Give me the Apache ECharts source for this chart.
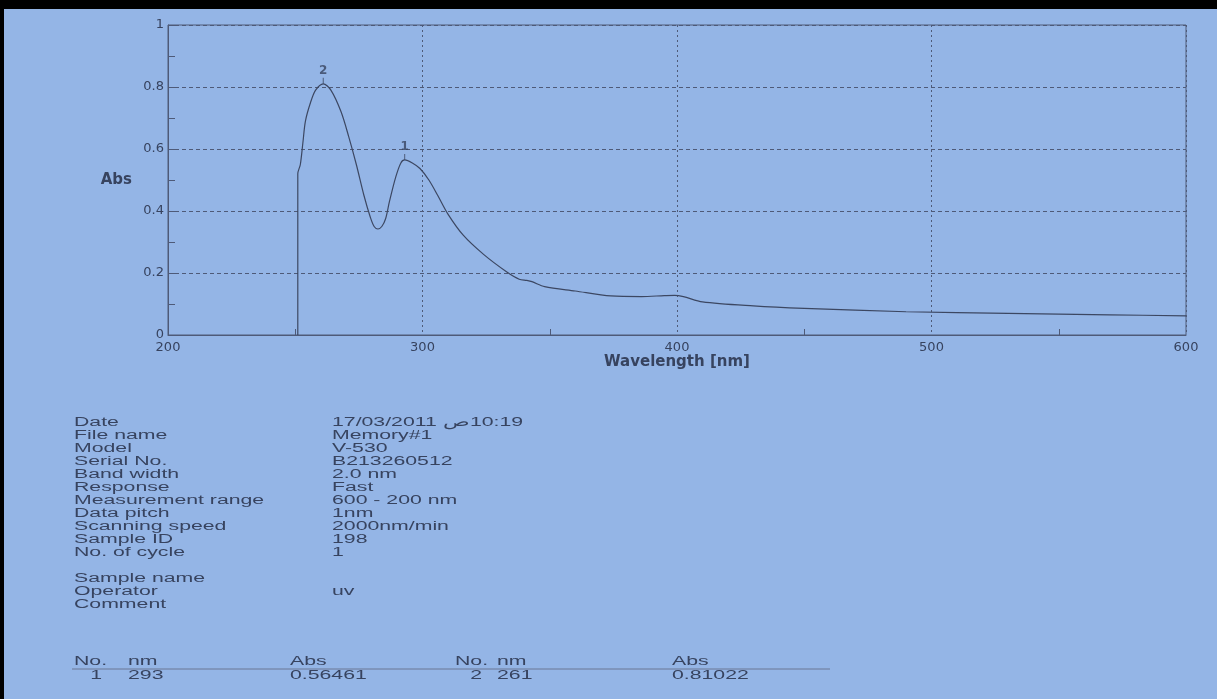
<!DOCTYPE html>
<html>
<head>
<meta charset="utf-8">
<title>UV spectrum</title>
<script src="https://cdn.jsdelivr.net/npm/echarts@6/dist/echarts.min.js"></script>
<style>
    html, body {margin: 0; padding: 0; background: #94b5e6}
    #main {width: 1217px; height: 699px}
</style>
</head>
<body>
<div id="main"></div>
<script>
// trace (nm / Abs)
var wavelength = [251, 251, 251, 252, 253, 254, 256, 258, 261, 264, 268, 271, 274, 277, 279.5, 281, 282.5, 284, 285.5, 287, 289.5, 291.5, 293, 296, 299, 302.5, 306, 310, 316, 324, 333, 338, 341, 343, 348, 360, 374, 386, 395, 399, 402.5, 410, 430, 450, 490, 530, 570, 600]
var absorbance = [0, 0.3, 0.52, 0.55, 0.62, 0.69, 0.75, 0.79, 0.81022, 0.79, 0.72, 0.64, 0.55, 0.45, 0.38, 0.35, 0.342, 0.35, 0.375, 0.43, 0.51, 0.555, 0.56461, 0.555, 0.537, 0.5, 0.45, 0.39, 0.322, 0.26, 0.204, 0.18, 0.176, 0.172, 0.156, 0.142, 0.126, 0.124, 0.127, 0.128, 0.124, 0.107, 0.094, 0.086, 0.075, 0.07, 0.065, 0.062]

// peak pick
var peakNo = [1, 2]
var peakNm = [293, 261]
var peakAbs = [0.56461, 0.81022]

// axes
var xMin = 200, xMax = 600, xStep = 100
var yMin = 0, yMax = 1, yStep = 0.2

// measurement info block
var infoLabels = ['Date', 'File name', 'Model', 'Serial No.', 'Band width', 'Response', 'Measurement range', 'Data pitch', 'Scanning speed', 'Sample ID', 'No. of cycle', '', 'Sample name', 'Operator', 'Comment']
var infoValues = ['17/03/2011 ص\u200E10:19', 'Memory#1', 'V-530', 'B213260512', '2.0 nm', 'Fast', '600 - 200 nm', '1nm', '2000nm/min', '198', '1', '', '', 'uv', '']
var tableHead = ['No.', 'nm', 'Abs']

var ink = '#37435f'
var lineInk = '#4e5a78'
var stretch = 1.7   // the photo is stretched sideways

var trace = []
for (var i = 0; i < wavelength.length; i++) {
    trace.push([wavelength[i], absorbance[i]])
}
var peaks = []
for (var i = 0; i < peakNo.length; i++) {
    peaks.push([peakNm[i], peakAbs[i], peakNo[i]])
}

function txt(x, y, s, align) {
    return {
        type: 'text', x: x, y: y, scaleX: stretch, silent: true,
        style: {
            text: s, fill: ink, fontSize: 12.5, fontFamily: 'Liberation Sans',
            textAlign: align || 'left', textVerticalAlign: 'middle'
        }
    }
}

var graphics = [
    {type: 'rect', shape: {x: 0, y: 0, width: 1217, height: 9}, style: {fill: '#000'}, silent: true},
    {type: 'rect', shape: {x: 0, y: 0, width: 4, height: 699}, style: {fill: '#000'}, silent: true}
]
// info lines
for (var i = 0; i < infoLabels.length; i++) {
    if (infoLabels[i]) graphics.push(txt(74, 423 + i * 13, infoLabels[i]))
    if (infoValues[i]) graphics.push(txt(332, 423 + i * 13, infoValues[i]))
}
// peak table, two peaks per line
var colX = [[74, 102, 128, 290], [455, 482, 497, 672]]
for (var i = 0; i < peakNo.length; i++) {
    var c = colX[i % 2]
    graphics.push(txt(c[0], 662, tableHead[0]))
    graphics.push(txt(c[2], 662, tableHead[1]))
    graphics.push(txt(c[3], 662, tableHead[2]))
    graphics.push(txt(c[1], 676, String(peakNo[i]), 'right'))
    graphics.push(txt(c[2], 676, String(peakNm[i])))
    graphics.push(txt(c[3], 676, peakAbs[i].toFixed(5)))
}
graphics.push({
    type: 'line', silent: true,
    shape: {x1: 72, y1: 669, x2: 830, y2: 669},
    style: {stroke: '#6b7794', lineWidth: 1}
})

var myChart = echarts.init(document.getElementById('main'))
myChart.setOption({
    backgroundColor: '#94b5e6',
    animation: false,
    grid: {
        left: 168, right: 31, top: 25, bottom: 364,
        show: true, borderColor: lineInk, borderWidth: 1
    },
    xAxis: {
        type: 'value', min: xMin, max: xMax, interval: xStep,
        name: 'Wavelength [nm]', nameLocation: 'middle', nameGap: 17,
        nameTextStyle: {color: ink, fontFamily: 'DejaVu Sans', fontWeight: 'bold', fontSize: 15},
        axisLine: {lineStyle: {color: lineInk}},
        axisTick: {show: false, inside: true},
        minorTick: {show: true, splitNumber: 2, length: 6, lineStyle: {color: lineInk}},
        axisLabel: {color: ink, fontFamily: 'DejaVu Sans', fontSize: 13, margin: 6},
        splitLine: {lineStyle: {color: lineInk, type: [2, 3], width: 1}}
    },
    yAxis: {
        type: 'value', min: yMin, max: yMax, interval: yStep,
        name: 'Abs', nameLocation: 'middle', nameRotate: 0, nameGap: 36,
        nameTextStyle: {color: ink, fontFamily: 'DejaVu Sans', fontWeight: 'bold', fontSize: 15, padding: [12, 0, 0, 0]},
        axisLine: {lineStyle: {color: lineInk}},
        axisTick: {show: true, inside: true, length: 8, lineStyle: {color: lineInk}},
        minorTick: {show: true, splitNumber: 2, length: 7, lineStyle: {color: lineInk}},
        axisLabel: {color: ink, fontFamily: 'DejaVu Sans', fontSize: 13, margin: 4},
        splitLine: {lineStyle: {color: lineInk, type: [4, 3], width: 1}}
    },
    series: [
        {
            type: 'line', data: trace, showSymbol: false, smooth: 0.3,
            lineStyle: {color: '#3c4762', width: 1.2}
        },
        {
            // peak markers with their numbers
            type: 'scatter', data: peaks,
            symbol: 'rect', symbolSize: [1, 6], symbolOffset: [0, -3],
            itemStyle: {color: '#3c4762'},
            label: {
                show: true, position: 'top', distance: 1,
                color: ink, fontFamily: 'DejaVu Sans', fontSize: 12, fontWeight: 'bold',
                formatter: function (p) { return String(p.value[2]) }
            }
        }
    ],
    graphic: graphics
})
</script>
</body>
</html>
